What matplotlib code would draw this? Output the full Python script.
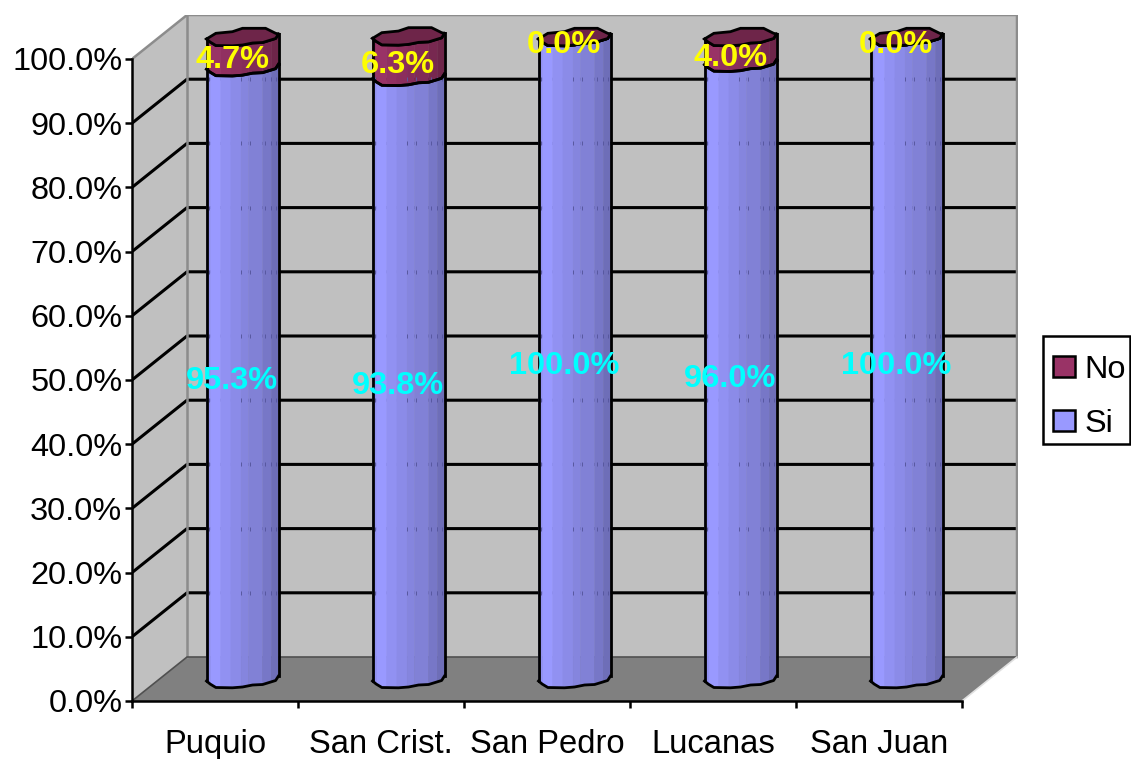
"""Recreate the stacked cylinder chart of Si/No shares per district."""

import matplotlib.pyplot as plt
from matplotlib.patches import Patch, Rectangle
import numpy as np

CATEGORIES = ["Puquio", "San Crist.", "San Pedro", "Lucanas", "San Juan"]
SI_VALUES = [95.3, 93.8, 100.0, 96.0, 100.0]
NO_VALUES = [4.7, 6.3, 0.0, 4.0, 0.0]
Y_TICKS = [0, 10, 20, 30, 40, 50, 60, 70, 80, 90, 100]

SI_COLOR = "#9999FF"
NO_COLOR = "#993366"

# Scale of the front plane and the oblique depth offset, in pixels:
PX_PER_CAT = 166.0
PX_PER_PCT = 6.42
DEPTH_PX_X = 55.0
DEPTH_PX_Y = 44.0
DX = DEPTH_PX_X / PX_PER_CAT
DY = DEPTH_PX_Y / PX_PER_PCT

# Lumpy outline of the low-poly cylinder (pixels from the centre line):
BAR_WIDTH_PX = 72.0
FRONT_F = [0.0, 0.05, 0.13, 0.36, 0.5, 0.64, 0.78, 0.96, 1.0]
FRONT_PX = [2.0, 5.0, 8.5, 8.8, 8.0, 6.0, 5.5, 1.5, -3.0]
BACK_F = [0.0, 0.13, 0.36, 0.5, 0.82, 0.96, 1.0]
BACK_PX = [2.0, -3.7, -5.3, -8.7, -8.7, -3.7, -3.0]

# Shading bands across the cylinder:
BAND_EDGES = [0.0, 0.06, 0.2, 0.34, 0.48, 0.58, 0.78, 0.9, 1.0]
BAND_SHADES = [0.95, 1.0, 0.95, 0.91, 0.87, 0.84, 0.78, 0.72]
NOTCH_F = [0.04, 0.48, 0.6, 0.81, 0.89, 0.96]


def project(x, y, depth):
    """Shift front-plane data coordinates back by a depth in [0, 1]."""
    return np.asarray(x) + depth * DX, np.asarray(y) + depth * DY


def shade(color, factor):
    """Darken a hex color by a factor."""
    rgb = np.array([int(color[i : i + 2], 16) for i in (1, 3, 5)]) / 255
    return tuple(rgb * factor)


def draw_walls(ax):
    """Draw the back wall, side wall, floor and gridlines."""
    x_end = len(CATEGORIES)
    ax.fill(
        *project([0, x_end, x_end, 0], [0, 0, 100, 100], 1),
        fc="#C0C0C0",
        ec="none",
        zorder=1,
    )
    ax.fill([0, DX, DX, 0], [0, DY, 100 + DY, 100], fc="#C0C0C0", ec="none", zorder=1)
    ax.fill(
        [0, x_end, x_end + DX, DX], [0, 0, DY, DY], fc="#808080", ec="none", zorder=1
    )

    for value in Y_TICKS[1:-1]:
        ax.plot(
            [0, DX, x_end + DX],
            [value, value + DY, value + DY],
            color="black",
            lw=2.2,
            zorder=2,
        )

    # Wall borders:
    ax.plot(
        [0, DX, x_end + DX, x_end + DX],
        [100, 100 + DY, 100 + DY, DY],
        color="#8C8C8C",
        lw=1.8,
        zorder=2,
    )
    ax.plot([DX, DX], [DY, 100 + DY], color="#8C8C8C", lw=1.8, zorder=2)
    ax.plot([0, DX, x_end + DX], [0, DY, DY], color="#505050", lw=1.2, zorder=2)
    ax.plot([x_end, x_end + DX], [0, DY], color="#E0E0E0", lw=1.2, zorder=2)


def band_polygon(left, right, low, high):
    """Build one shading band between two heights, following the front outline."""
    inner = [f for f in FRONT_F if left < f < right]
    fracs = np.array([left, *inner, right])
    offsets = np.interp(fracs, FRONT_F, FRONT_PX) / PX_PER_PCT
    xs = (fracs - 0.5) * BAR_WIDTH_PX / PX_PER_CAT
    return np.r_[xs, xs[::-1]], np.r_[low - offsets, (high - offsets)[::-1]]


def draw_segment(ax, center, low, high, color):
    """Draw one cylinder segment as shaded bands with a black outline."""
    for i, factor in enumerate(BAND_SHADES):
        xs, ys = band_polygon(BAND_EDGES[i], BAND_EDGES[i + 1], low, high)
        x_p, y_p = project(center + xs, ys, 0.5)
        ax.fill(
            x_p, y_p, fc=shade(color, factor), ec=shade(color, factor), lw=0.3, zorder=3
        )

    fracs = np.array(FRONT_F)
    offsets = np.array(FRONT_PX) / PX_PER_PCT
    xs = center + (fracs - 0.5) * BAR_WIDTH_PX / PX_PER_CAT
    for level in (low, high):
        x_p, y_p = project(xs, level - offsets, 0.5)
        ax.plot(x_p, y_p, color="black", lw=2.0, zorder=4)
    for edge, off in ((0, FRONT_PX[0]), (1, FRONT_PX[-1])):
        x_edge = center + (edge - 0.5) * BAR_WIDTH_PX / PX_PER_CAT
        levels = [low - off / PX_PER_PCT, high - off / PX_PER_PCT]
        x_p, y_p = project([x_edge, x_edge], levels, 0.5)
        ax.plot(x_p, y_p, color="black", lw=2.0, zorder=4)


def draw_notches(ax, center, top):
    """Mark where the gridlines show faintly through the cylinder facets."""
    xs = center + (np.array(NOTCH_F) - 0.5) * BAR_WIDTH_PX / PX_PER_CAT
    for value in Y_TICKS[1:-1]:
        y_back = value + DY
        if y_back >= top + DY / 2:
            continue
        x_p, _ = project(xs, value, 0.5)
        ax.plot(
            x_p,
            np.full_like(x_p, y_back),
            ls="none",
            marker="|",
            ms=2.5,
            mew=0.7,
            color="#5858A0",
            zorder=3.5,
        )


def draw_cap(ax, center, top, color):
    """Draw the elliptical top of a cylinder."""
    front = (np.array(FRONT_F) - 0.5) * BAR_WIDTH_PX / PX_PER_CAT
    back = (np.array(BACK_F) - 0.5) * BAR_WIDTH_PX / PX_PER_CAT
    xs = np.r_[front, back[::-1]] + center
    ys = top - np.r_[FRONT_PX, BACK_PX[::-1]] / PX_PER_PCT
    x_p, y_p = project(xs, ys, 0.5)
    ax.fill(x_p, y_p, fc=shade(color, 0.72), ec="black", lw=2.0, zorder=5)


def add_label(ax, center, value, y, color):
    """Add a bold percentage label near a segment centre."""
    x_p, y_p = project(center, y, 0.5)
    ax.annotate(
        f"{value:.1f}%",
        (float(x_p), float(y_p)),
        xytext=(-7.5, -6),
        textcoords="offset points",
        ha="center",
        va="center",
        color=color,
        fontsize=23.4,
        fontweight="bold",
        zorder=6,
    )


def main():
    """Build the chart and save it as out.png."""
    plt.rcParams["font.family"] = ["Liberation Sans", "DejaVu Sans"]
    fig = plt.figure(figsize=(11.31, 7.59), dpi=100)
    ax = fig.add_axes([132 / 1131, 58 / 759, 886 / 1131, 686 / 759])
    ax.set_xlim(0, 886 / PX_PER_CAT)
    ax.set_ylim(0, 686 / PX_PER_PCT)

    draw_walls(ax)

    for i, (si, no) in enumerate(zip(SI_VALUES, NO_VALUES)):
        center = i + 0.5
        draw_segment(ax, center, 0.0, si, SI_COLOR)
        draw_segment(ax, center, si, si + no, NO_COLOR)
        draw_notches(ax, center, si)
        draw_cap(ax, center, si + no, NO_COLOR)
        add_label(ax, center, si, si / 2, "#00FFFF")
        add_label(ax, center, no, si + no / 2, "#FFFF00")

    # Axes on the front plane:
    for side in ("top", "right"):
        ax.spines[side].set_visible(False)
    ax.spines["left"].set_bounds(0, 100)
    ax.spines["bottom"].set_bounds(0, len(CATEGORIES))
    for side in ("left", "bottom"):
        ax.spines[side].set_linewidth(1.8)
        ax.spines[side].set_zorder(2.5)
    ax.patch.set_visible(False)
    ax.set_yticks(Y_TICKS)
    ax.set_yticklabels([f"{v:.1f}%" for v in Y_TICKS], fontsize=23.4)
    ax.set_xticks(range(len(CATEGORIES) + 1))
    ax.set_xticklabels([])
    ax.set_xticks(
        np.arange(len(CATEGORIES)) + 0.5, CATEGORIES, minor=True, fontsize=23.6
    )
    ax.tick_params(axis="y", length=5, width=1.8, pad=2)
    ax.tick_params(axis="x", which="major", length=5, width=1.8)
    ax.tick_params(axis="x", which="minor", length=0, pad=20)

    # Legend frame is drawn apart so its content can sit low in the box:
    fig.add_artist(
        Rectangle(
            (1043 / 1131, 1 - 444 / 759),
            87 / 1131,
            108 / 759,
            transform=fig.transFigure,
            fc="white",
            ec="black",
            lw=1.8,
        )
    )
    handles = [
        Patch(facecolor=NO_COLOR, edgecolor="black", linewidth=1.8, label="No"),
        Patch(facecolor=SI_COLOR, edgecolor="black", linewidth=1.8, label="Si"),
    ]
    fig.legend(
        handles=handles,
        loc="center left",
        bbox_to_anchor=(1053 / 1131, 1 - 397 / 759),
        borderaxespad=0,
        borderpad=0,
        fontsize=23.4,
        handlelength=0.68,
        handleheight=0.62,
        handletextpad=0.3,
        labelspacing=0.75,
        frameon=False,
    )

    plt.savefig("out.png", dpi=100)


if __name__ == "__main__":
    main()
